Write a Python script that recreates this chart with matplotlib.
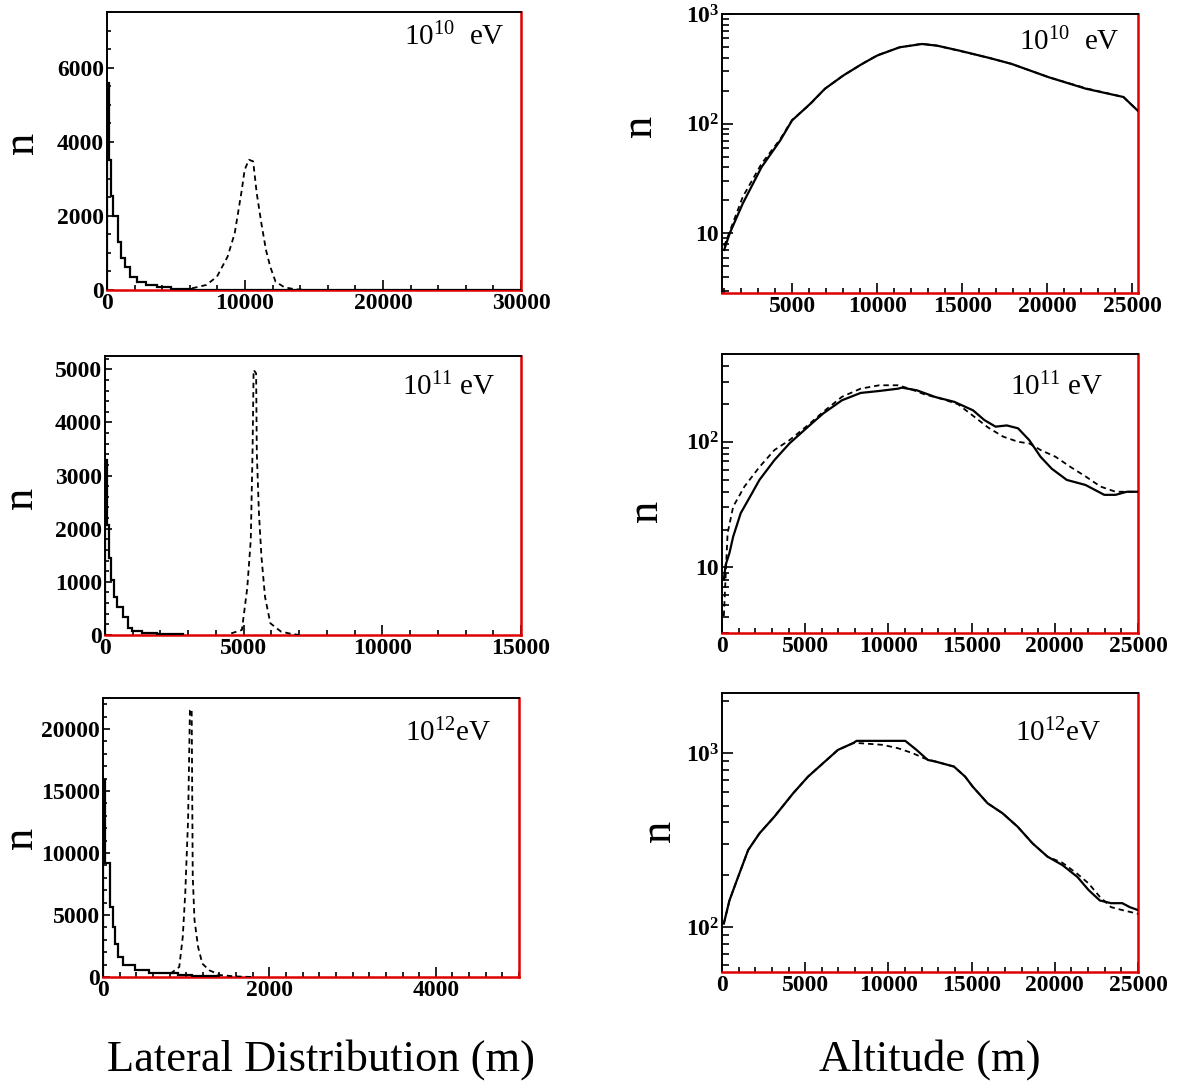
import math
import matplotlib
matplotlib.use("Agg")
import matplotlib.pyplot as plt
from matplotlib.ticker import AutoMinorLocator, MultipleLocator, FuncFormatter, LogLocator

plt.rcParams['font.family'] = ['Liberation Serif', 'DejaVu Serif']
plt.rcParams['font.weight'] = 'bold'
plt.rcParams['mathtext.fontset'] = 'custom'
plt.rcParams['mathtext.rm'] = 'Liberation Serif'
plt.rcParams['mathtext.bf'] = 'Liberation Serif:bold'

# ---------- data ----------
# lateral distribution, 10^10 eV
lat10_edges = [0, 129, 257, 463, 771, 1028, 1285, 1671, 2185, 2828, 3599, 4627, 6170, 30000]
lat10_solid = [5585, 3513, 2522, 1982, 1306, 856, 631, 360, 225, 135, 72, 36, 0]
lat10_dash_x = [6170, 7198, 7969, 8740, 9254, 9769, 9974, 10283, 10591, 10848, 11183, 11517,
                11825, 12211, 12853, 13625, 14500]
lat10_dash_y = [45, 135, 360, 901, 1531, 2703, 3243, 3513, 3468, 2613, 1802, 1081, 631, 225,
                72, 18, 0]

# lateral distribution, 10^11 eV
lat11_edges = [0, 64, 128, 218, 320, 449, 641, 833, 962, 1346, 1859, 2800]
lat11_solid = [3294, 2070, 1443, 1035, 721, 533, 345, 125, 80, 44, 10]
lat11_dash_x = [4551, 4936, 5128, 5256, 5321, 5359, 5449, 5474, 5551, 5641, 5769, 5962, 6346,
                6731, 7000]
lat11_dash_y = [30, 94, 878, 1788, 3482, 4987, 4925, 3420, 2290, 1474, 721, 220, 63, 19, 0]

# lateral distribution, 10^12 eV
lat12_edges = [0, 30, 85, 119, 149, 183, 235, 384, 554, 896, 1066, 1400]
lat12_solid = [15900, 9189, 5676, 4054, 2703, 1622, 946, 540, 324, 189, 108]
lat12_dash_x = [810, 917, 959, 989, 1023, 1045, 1066, 1079, 1100, 1143, 1194, 1279, 1407, 1578, 1800]
lat12_dash_y = [270, 811, 3243, 6757, 12700, 21490, 21622, 8108, 4595, 2432, 1081, 540, 162, 54, 0]

# altitude, 10^10 eV
alt10_x = [1009, 1338, 2105, 3202, 4298, 5000, 6053, 6930, 8026, 9123, 10000, 11316, 12632,
           13509, 14825, 16579, 17895, 20088, 22281, 24474, 25300]
alt10_solid = [7.05, 10, 18.7, 40, 70, 107, 151, 208, 276, 351, 418, 497, 533, 515, 464, 398,
               351, 265, 208, 175, 132]
alt10_dash = [7.6, 10.4, 21.5, 43, 72, 108, 150, 208, 276, 351, 420, 497, 535, 515, 462, 398,
              351, 265, 210, 175, 132]

# altitude, 10^11 eV
alt11_x = [113, 225, 450, 676, 1126, 1577, 2252, 3153, 4054, 5180, 6081, 7207, 8333, 9459,
           10586, 10811, 11712, 12838, 13964, 15090, 15766, 16441, 17117, 17793, 18468, 19144,
           19820, 20721, 21847, 22973, 23649, 24324, 25000]
alt11_solid = [8, 10.5, 13, 17.6, 27, 34.4, 49.7, 71.5, 97, 132, 168, 214, 245, 254, 265, 270,
               257, 227, 208, 178, 149, 132, 135, 128, 103, 76, 61, 49.7, 45.3, 37.8, 37.8, 40, 40]
alt11_dash_x = [113, 338, 676, 1351, 2252, 3153, 4054, 5180, 6081, 7207, 8333, 9459, 10586,
                11261, 12162, 13288, 14189, 15090, 15991, 16892, 17793, 18468, 19144, 20045,
                20946, 21847, 22748, 23649, 24324, 25000]
alt11_dash = [4.1, 18.7, 30.5, 44, 63, 86, 103, 136, 173, 228, 265, 282, 282, 265, 239, 218,
              199, 161, 130, 110, 100, 97, 86, 76, 63, 53, 44, 40, 40, 40]

# altitude, 10^12 eV
alt12_x = [112, 450, 899, 1574, 2248, 3147, 4272, 5171, 6070, 6970, 7869, 8094, 11016, 11691,
           12365, 12815, 13939, 14613, 15063, 15962, 16862, 17761, 18660, 19559, 20459, 21358,
           22032, 22707, 23381, 24056, 24506, 25000]
alt12_solid = [104.5, 142, 186, 277, 345, 431, 587, 733, 875, 1045, 1142, 1178, 1178, 1045, 915,
               896, 838, 733, 643, 515, 451, 378, 303, 254, 227, 194, 163, 142, 137, 137, 130, 125]
alt12_dash_x = [112, 450, 899, 1574, 2248, 3147, 4272, 5171, 6070, 6970, 7869, 8318, 9667,
                10567, 11466, 12140, 12815, 13939, 14613, 15063, 15962, 16862, 17761, 18660,
                19559, 20459, 21358, 22032, 22707, 23381, 24056, 25000]
alt12_dash = [104.5, 142, 186, 277, 345, 431, 587, 733, 875, 1045, 1142, 1142, 1117, 1069, 1000,
              936, 896, 838, 733, 643, 515, 451, 378, 303, 254, 234, 202, 178, 149, 130, 125, 119]

energy_labels = [r'$\mathregular{10^{10}}$  eV', r'$\mathregular{10^{11}}$ eV', r'$\mathregular{10^{12}}$eV']

# ---------- styling ----------
RED = '#e00000'
SOLID = dict(color='black', lw=1.6, zorder=3)
DASH = dict(color='black', lw=1.3, ls=(0, (3.0, 2.2)), zorder=3)


def style_axes(ax, log=False):
    for s in ('left', 'top'):
        ax.spines[s].set_color('black')
        ax.spines[s].set_linewidth(1.4)
    ax.spines['bottom'].set_color(RED)
    ax.spines['bottom'].set_linewidth(1.8)
    ax.spines['right'].set_color(RED)
    ax.spines['right'].set_linewidth(1.8)
    ax.tick_params(which='both', direction='in', top=False, right=False, labelsize=17,
                   width=1.2, colors='black', pad=2)
    ax.tick_params(axis='x', which='major', length=7.5)
    ax.tick_params(axis='x', which='minor', length=3.8)
    if log:
        ax.tick_params(axis='y', which='major', length=8)
        ax.tick_params(axis='y', which='minor', length=5)
    else:
        ax.tick_params(axis='y', which='major', length=4.8)
        ax.tick_params(axis='y', which='minor', length=2.6)


def log_fmt(v, pos):
    if abs(v - 10) < 1e-6:
        return '10'
    return r'$\mathregular{10^{%d}}$' % int(round(math.log10(v)))


fig = plt.figure(figsize=(11.89, 10.88), dpi=100)

left_pos = [[0.0900, 0.7335, 0.3482, 0.2555],
            [0.0883, 0.4164, 0.3499, 0.2564],
            [0.0866, 0.1020, 0.3499, 0.2564]]
right_pos = [[0.6072, 0.7307, 0.3499, 0.2564],
             [0.6072, 0.4182, 0.3499, 0.2564],
             [0.6072, 0.1066, 0.3499, 0.2564]]

lat_sets = [
    (lat10_edges, lat10_solid, lat10_dash_x, lat10_dash_y, 30000, 7500, 10000, 5, 2000, 4),
    (lat11_edges, lat11_solid, lat11_dash_x, lat11_dash_y, 15000, 5250, 5000, 5, 1000, 5),
    (lat12_edges, lat12_solid, lat12_dash_x, lat12_dash_y, 5000, 22500, 2000, 10, 5000, 5),
]
alt_sets = [
    (alt10_x, alt10_solid, alt10_x, alt10_dash, (880, 25330), (2.85, 1000)),
    (alt11_x, alt11_solid, alt11_dash_x, alt11_dash, (0, 25000), (3.0, 500)),
    (alt12_x, alt12_solid, alt12_dash_x, alt12_dash, (0, 25000), (55, 2220)),
]
lab_left = [(0.960, 0.91), (0.939, 0.889), (0.934, 0.875)]
lab_right = [(0.957, 0.90), (0.916, 0.88), (0.912, 0.857)]
n_left = [(-0.158, 0.53), (-0.153, 0.49), (-0.150, 0.50)]
n_right = [(-0.149, 0.60), (-0.135, 0.437), (-0.103, 0.505)]

for i in range(3):
    # lateral distribution
    edges, solid, dx, dy, xmax, ymax, xmaj, xsub, ymaj, ysub = lat_sets[i]
    ax = fig.add_axes(left_pos[i])
    ax.stairs(solid, edges, **SOLID)
    ax.plot(dx, dy, **DASH)
    ax.set_xlim(0, xmax)
    ax.set_ylim(0, ymax)
    ax.xaxis.set_major_locator(MultipleLocator(xmaj))
    ax.xaxis.set_minor_locator(AutoMinorLocator(xsub))
    ax.yaxis.set_major_locator(MultipleLocator(ymaj))
    ax.yaxis.set_minor_locator(AutoMinorLocator(ysub))
    style_axes(ax)
    ax.set_ylabel('n', fontsize=32, fontweight='normal')
    ax.yaxis.set_label_coords(*n_left[i])
    ax.text(lab_left[i][0], lab_left[i][1], energy_labels[i], transform=ax.transAxes,
            ha='right', va='center', fontsize=21, fontweight='normal')

    # altitude
    x, s, dx2, d, xl, yl = alt_sets[i]
    ax2 = fig.add_axes(right_pos[i])
    ax2.plot(x, s, **SOLID)
    ax2.plot(dx2, d, **DASH)
    ax2.set_yscale('log')
    ax2.set_xlim(*xl)
    ax2.set_ylim(*yl)
    ax2.xaxis.set_major_locator(MultipleLocator(5000))
    ax2.xaxis.set_minor_locator(AutoMinorLocator(5))
    ax2.yaxis.set_major_locator(LogLocator(base=10))
    ax2.yaxis.set_minor_locator(LogLocator(base=10, subs=range(2, 10)))
    ax2.yaxis.set_major_formatter(FuncFormatter(log_fmt))
    ax2.yaxis.set_minor_formatter(FuncFormatter(lambda v, p: ''))
    style_axes(ax2, log=True)
    ax2.set_ylabel('n', fontsize=32, fontweight='normal')
    ax2.yaxis.set_label_coords(*n_right[i])
    ax2.text(lab_right[i][0], lab_right[i][1], energy_labels[i], transform=ax2.transAxes,
             ha='right', va='center', fontsize=21, fontweight='normal')

fig.text(0.270, 0.0165, 'Lateral Distribution (m)', ha='center', va='baseline',
         fontsize=32, fontweight='normal')
fig.text(0.782, 0.0165, 'Altitude (m)', ha='center', va='baseline',
         fontsize=32, fontweight='normal')

fig.savefig('out.png', dpi=100)
